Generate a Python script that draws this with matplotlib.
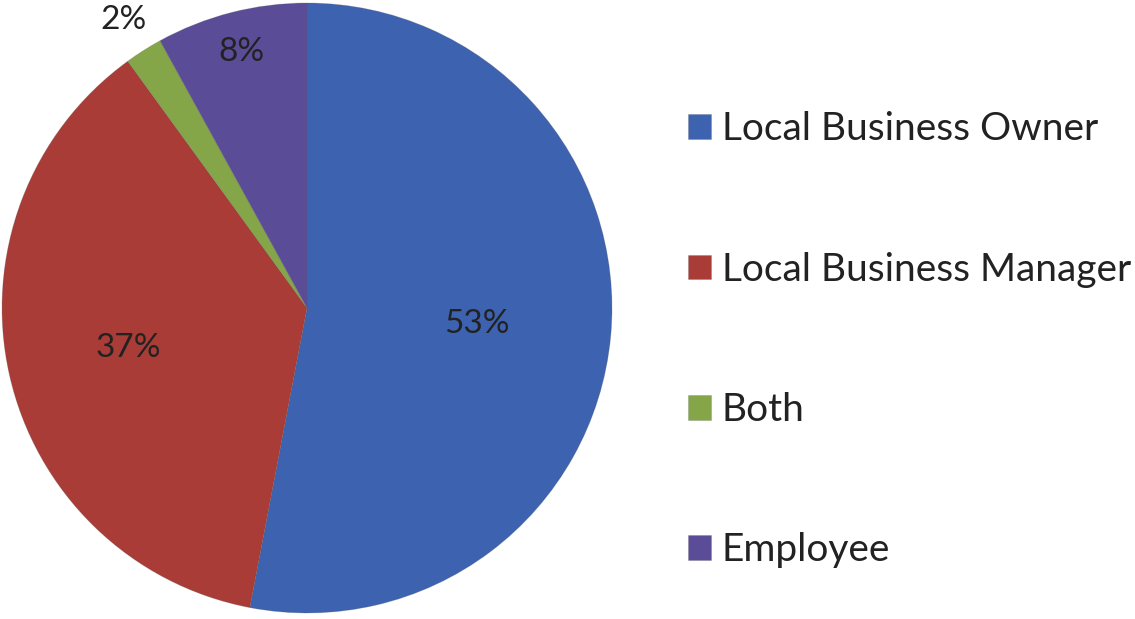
import matplotlib
matplotlib.use("Agg")
from matplotlib import pyplot as plt
import numpy as np

plt.rcParams['font.family'] = ['Lato', 'DejaVu Sans']

labels = ["Local Business Owner", "Local Business Manager", "Both", "Employee"]
shares = [53, 37, 2, 8]
colors = ["#3d62b0", "#a93c36", "#85a648", "#5b4c98"]
# how far out each percentage sits, as a fraction of the radius
label_dist = [0.56, 0.60, 1.12, 0.865]

W, H = 1135, 619
fig = plt.figure(figsize=(W / 100, H / 100), dpi=100)
cx, cy, r = 307, 311, 305
ax = fig.add_axes([(cx - r) / W, (cy - r) / H, 2 * r / W, 2 * r / H])

wedges, _ = ax.pie(shares, colors=colors, startangle=90, counterclock=False,
                   radius=1, wedgeprops=dict(linewidth=0.6, edgecolor="#55555540"))
ax.set_xlim(-1, 1)
ax.set_ylim(-1, 1)
ax.set_aspect("equal")
ax.axis("off")

for w, v, d in zip(wedges, shares, label_dist):
    mid = np.deg2rad((w.theta1 + w.theta2) / 2)
    ax.text(d * np.cos(mid), d * np.sin(mid), f"{v}%", ha="center", va="center",
            fontsize=24, color="#222222", clip_on=False)

leg = fig.legend(wedges, labels, loc="center left", bbox_to_anchor=(672 / W, 0.451),
                 frameon=False, fontsize=28, labelspacing=2.68, handlelength=0.6,
                 handleheight=0.6, handletextpad=0.28, borderaxespad=0)
for t in leg.get_texts():
    t.set_color("#222222")

fig.savefig("out.png", dpi=100, facecolor="white")
